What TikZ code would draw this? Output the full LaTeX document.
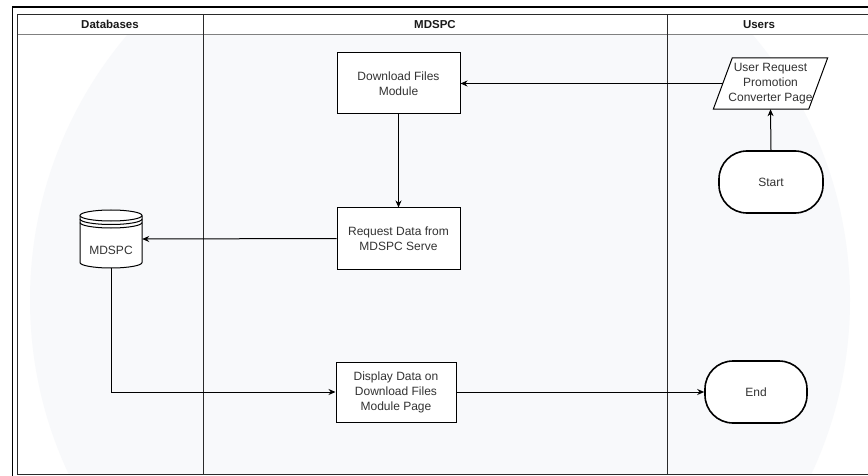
\documentclass[tikz,border=0pt]{standalone}
\usepackage{fontspec}
\setmainfont{Liberation Sans}
\usetikzlibrary{arrows.meta}
\definecolor{ink}{HTML}{333333}
\definecolor{wash}{HTML}{F8F9FB}
\definecolor{rule}{HTML}{2A2A2A}
\begin{document}
\begin{tikzpicture}[x=1pt,y=-1pt,
  box/.style={draw=black, line width=1pt, fill=white, text=ink,
    font=\fontsize{12}{15}\selectfont, align=center, inner sep=0pt},
  term/.style={box, rounded corners=28pt, line width=1.6pt},
  flow/.style={draw=black, line width=1pt, -{Stealth[length=7pt,width=6pt]}},
  lane/.style={draw=rule, line width=0.9pt},
  head/.style={font=\bfseries\fontsize{11.5}{13}\selectfont, text=black!90},
  label/.style={text=ink, font=\fontsize{12}{15}\selectfont, align=center, inner sep=0pt}]
\useasboundingbox (0,0) rectangle (868,476);
\clip (0,0) rectangle (868,476);
\fill[white] (0,0) rectangle (868,476);

% faint background emblem
\begin{scope}
  \clip (17.5,34.5) rectangle (868,474.5);
  \fill[wash] (440,300) circle[radius=410pt];
\end{scope}

% swimlane frame
\draw[line width=1.8pt] (12.5,7) rectangle (900,520);
\draw[lane] (17.5,14.5) rectangle (900,474.5);
\draw[draw=black!50, line width=0.9pt] (17.5,34.5) -- (900,34.5);
\draw[lane] (203,14.5) -- (203,474.5);
\draw[lane] (667.5,14.5) -- (667.5,474.5);

\node[head] (hdb) at (110,24.5) {Databases};
\node[head] (hmd) at (435,24.5) {MDSPC};
\node[head] (hus) at (759,24.5) {Users};

% process steps
\node[box, minimum width=123, minimum height=61] (dl) at (398.5,83.5) {Download Files\\Module};
\node[box, minimum width=123, minimum height=61] (rq) at (398.5,238.5) {Request Data from\\MDSPC Serve};
\node[box, minimum width=120, minimum height=60] (disp) at (396,392) {Display Data on\\Download Files\\Module Page};
\node[term, minimum width=104, minimum height=62] (start) at (771,182) {Start};
\node[term, minimum width=102, minimum height=62] (end) at (756,392) {End};

% input (parallelogram)
\node[minimum width=95, minimum height=51, inner sep=0pt] (ureq) at (770.5,83.5) {};
\draw[line width=1pt, fill=white]
  ([xshift=9.5pt]ureq.north west) -- ([xshift=9.5pt]ureq.north east)
  -- ([xshift=-9.5pt]ureq.south east) -- ([xshift=-9.5pt]ureq.south west) -- cycle;
\node[label] (ureqtext) at (770.5,84) {User Request\\Promotion\\Converter Page};

% database (cylinder)
\node[minimum width=62, minimum height=58, inner sep=0pt] (db) at (111,239) {};
\draw[line width=1pt, fill=white] (80,215.5) -- (80,262.5)
  arc[start angle=180, end angle=360, x radius=31pt, y radius=5.5pt] -- (142,215.5);
\draw[line width=1pt, fill=white] (111,215.5) ellipse[x radius=31pt, y radius=5.5pt];
\draw[line width=1pt] (80,219) arc[start angle=180, end angle=360, x radius=31pt, y radius=5.5pt];
\draw[line width=1pt] (80,222.5) arc[start angle=180, end angle=360, x radius=31pt, y radius=5.5pt];
\node[label] (dbtext) at (111,250) {MDSPC};

% connectors
\draw[flow] (start.north) -- (ureq.south);
\draw[flow] (ureq.west) -- (dl.east);
\draw[flow] (dl.south) -- (rq.north);
\draw[flow] (rq.west) -- (db.east);
\draw[flow] (db.south) |- (disp.west);
\draw[flow] (disp.east) -- (end.west);
\end{tikzpicture}
\end{document}
